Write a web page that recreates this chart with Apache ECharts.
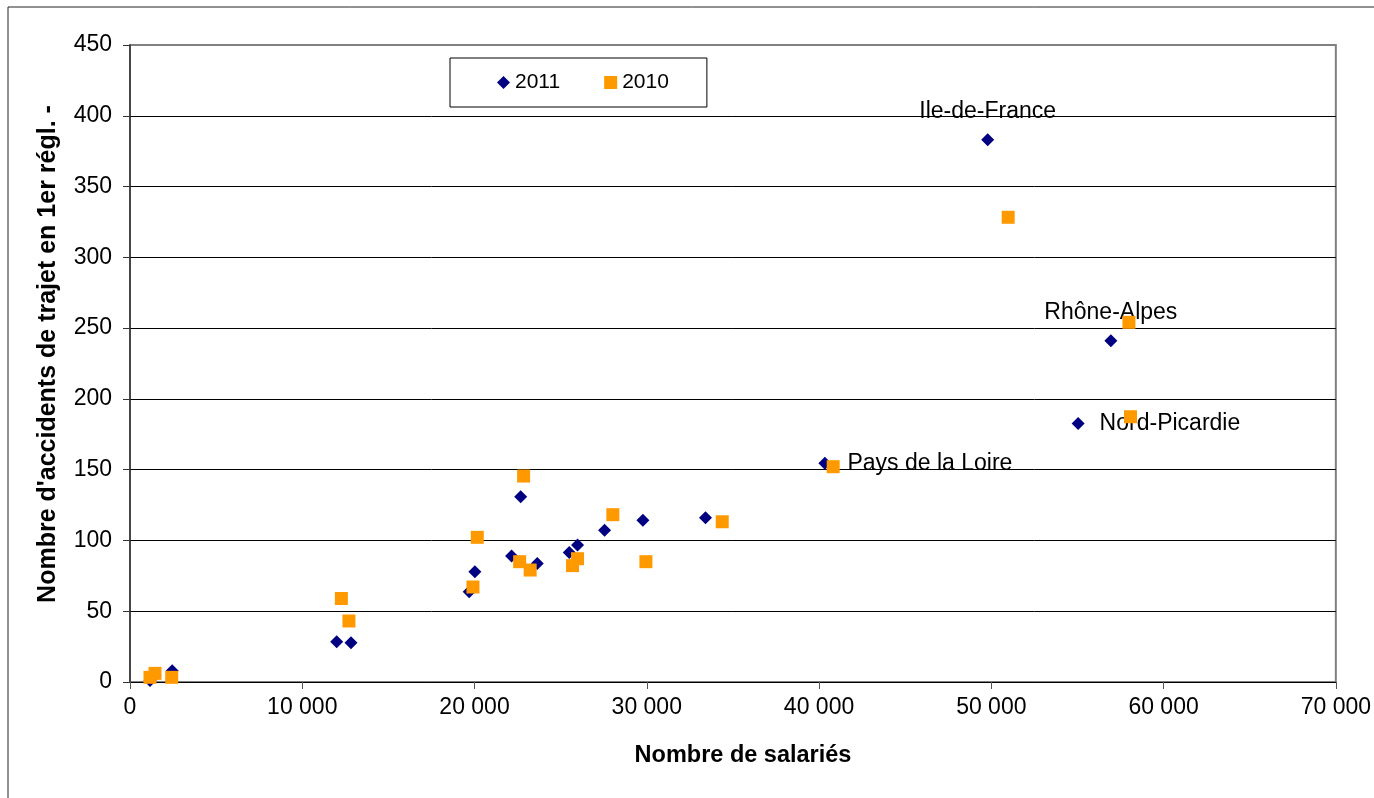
<!DOCTYPE html>
<html>
<head>
<meta charset="utf-8">
<script src="https://cdn.jsdelivr.net/npm/echarts@6/dist/echarts.min.js"></script>
<style>
html,body{margin:0;padding:0;background:#fff;}
#chart{width:1374px;height:798px;}
</style>
</head>
<body>
<div id="chart"></div>
<script>
// ---- Data ----
var seriesNames = ['2011', '2010'];
var x2011 = [1160, 1450, 2450, 12000, 12830, 19690, 20020, 22150, 22680, 23640, 25500, 25980, 27550, 29775, 33410, 40340, 49790, 55040, 56940];
var y2011 = [1, 5, 8, 28.5, 27.8, 63.8, 77.9, 89, 130.9, 83.8, 91.4, 96.8, 107.2, 114.2, 116, 154.5, 383, 182.7, 241.1];
var names2011 = ['', '', '', '', '', '', '', '', '', '', '', '', '', '', '', 'Pays de la Loire', 'Ile-de-France', 'Nord-Picardie', 'Rhône-Alpes'];
var x2010 = [1160, 1450, 2420, 12270, 12710, 19910, 20160, 22620, 22850, 23230, 25690, 25980, 28030, 29950, 34380, 40820, 50980, 57990, 58080];
var y2010 = [3.3, 6.1, 3.3, 59, 43.1, 67.1, 102.2, 85, 145.5, 79.1, 82.2, 87.1, 118.2, 85, 113.2, 152.1, 328.3, 254.1, 187.4];
var xTicks = [0, 10000, 20000, 30000, 40000, 50000, 60000, 70000];
var yTicks = [0, 50, 100, 150, 200, 250, 300, 350, 400, 450];
var xTitle = 'Nombre de salariés';
var yTitle = "Nombre d'accidents de trajet en 1er régl. -";

// ---- Styles ----
var FONT = '"Liberation Sans", Arial, sans-serif';
var labelPos = {
  'Ile-de-France': {position: 'top', distance: 10},
  'Rhône-Alpes': {position: 'top', distance: 10},
  'Nord-Picardie': {position: 'right', distance: 15},
  'Pays de la Loire': {position: 'right', distance: 16}
};
function fmt(v) { return String(v).replace(/\B(?=(\d{3})+(?!\d))/g, ' '); }
var gridColors = yTicks.map(function (t, i) { return i === yTicks.length - 1 ? '#808080' : '#000'; });

var data2011 = x2011.map(function (x, i) {
  var item = {value: [x, y2011[i]], name: names2011[i]};
  if (names2011[i]) {
    var p = labelPos[names2011[i]];
    item.label = {show: true, formatter: '{b}', position: p.position, distance: p.distance,
      color: '#000', fontSize: 23, fontFamily: FONT};
  }
  return item;
});
var data2010 = x2010.map(function (x, i) { return [x, y2010[i]]; });

var chart = echarts.init(document.getElementById('chart'), null, {renderer: 'canvas'});
chart.setOption({
  animation: false,
  backgroundColor: '#fff',
  grid: {left: 130, right: 38, top: 45, bottom: 116, show: true,
    borderColor: '#808080', borderWidth: 2, backgroundColor: 'transparent'},
  legend: {
    left: 450, top: 58,
    orient: 'horizontal',
    padding: [14, 38, 14, 47],
    itemGap: 44, itemWidth: 13, itemHeight: 13,
    borderColor: '#000', borderWidth: 1,
    textStyle: {fontSize: 21, fontFamily: FONT, color: '#000'},
    data: [{name: seriesNames[0], icon: 'diamond'}, {name: seriesNames[1], icon: 'rect'}]
  },
  xAxis: {
    type: 'value', min: xTicks[0], max: xTicks[xTicks.length - 1], interval: xTicks[1] - xTicks[0],
    axisLine: {show: true, onZero: false, lineStyle: {color: '#000', width: 1}},
    axisTick: {show: true, length: 7, lineStyle: {color: '#555'}},
    splitLine: {show: false},
    axisLabel: {fontSize: 23, fontFamily: FONT, color: '#000', margin: 14, formatter: fmt}
  },
  yAxis: {
    type: 'value', min: yTicks[0], max: yTicks[yTicks.length - 1], interval: yTicks[1] - yTicks[0],
    axisLine: {show: true, onZero: false, lineStyle: {color: '#333', width: 1.5}},
    axisTick: {show: true, length: 7, lineStyle: {color: '#333'}},
    splitLine: {show: true, lineStyle: {color: gridColors, width: 1}},
    axisLabel: {fontSize: 23, fontFamily: FONT, color: '#000', margin: 18}
  },
  series: [
    {name: seriesNames[0], type: 'scatter', symbol: 'diamond', symbolSize: 13,
      itemStyle: {color: '#000080', opacity: 1}, data: data2011, z: 2},
    {name: seriesNames[1], type: 'scatter', symbol: 'rect', symbolSize: 13,
      itemStyle: {color: '#FF9900', opacity: 1}, data: data2010, z: 3}
  ],
  graphic: [
    {type: 'rect', shape: {x: 8, y: 7, width: 1400, height: 820},
      style: {fill: 'none', stroke: '#222', lineWidth: 1}, silent: true},
    {type: 'text', x: 743, y: 756,
      style: {text: xTitle, font: 'bold 23.5px ' + FONT, fill: '#000', align: 'center', verticalAlign: 'middle'}},
    {type: 'text', x: 48, y: 354, rotation: Math.PI / 2,
      style: {text: yTitle, font: 'bold 25px ' + FONT, fill: '#000', align: 'center', verticalAlign: 'middle'}}
  ]
});
</script>
</body>
</html>
